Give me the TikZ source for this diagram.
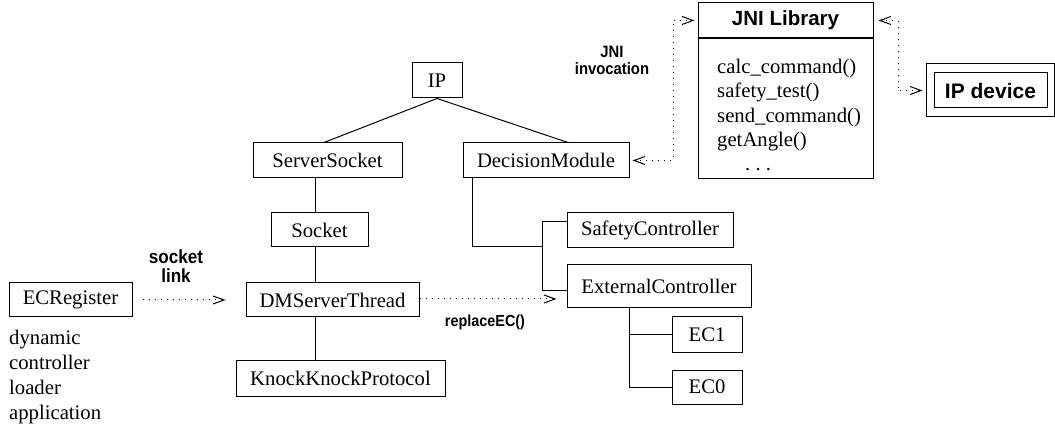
\documentclass[tikz,border=0pt]{standalone}
\usepackage{fontspec}
\setmainfont{Liberation Serif}
\newfontfamily\nbf[FakeStretch=0.9]{Liberation Sans Bold}
\newfontfamily\hbf{Liberation Sans Bold}
\usetikzlibrary{arrows.meta}
\begin{document}
\begin{tikzpicture}[x=1pt,y=-1pt,
  serif/.style={font=\fontsize{20.7}{25}\selectfont},
  box/.style={draw,line width=1pt,inner sep=0pt,serif},
  conn/.style={line width=1pt},
  barb/.tip={Straight Barb[length=11pt,width=8pt,line width=1pt]},
  dotline/.style={line width=1pt,dash pattern=on 1pt off 5pt},
  dotarrow/.style={dotline,-barb},
  dotdbl/.style={dotline,barb-barb},
  lbl/.style={inner sep=0pt,align=center},
]
\useasboundingbox (0,0) rectangle (1055,430);

% boxes
\node[box,minimum width=50pt,minimum height=35pt] (IP) at (437,80.5) {IP};
\node[box,minimum width=149pt,minimum height=35pt] (SS) at (327.5,160.5) {ServerSocket};
\node[box,minimum width=166pt,minimum height=35pt] (DM) at (546,160.5) {DecisionModule};
\node[box,minimum width=97pt,minimum height=34pt] (SO) at (319.5,230) {Socket};
\node[box,minimum width=173pt,minimum height=34pt] (DT) at (332.5,300) {DMServerThread};
\node[box,minimum width=209pt,minimum height=36pt] (KK) at (340.5,378) {KnockKnockProtocol};
\node[box,minimum width=123pt,minimum height=34pt] (ECR) at (70.5,300) {ECRegister};
\node[box,minimum width=166pt,minimum height=35pt] (SC) at (650,230.5) {SafetyController};
\node[box,minimum width=184pt,minimum height=43pt] (EC) at (659,286.5) {ExternalController};
\node[box,minimum width=70pt,minimum height=35pt] (EC1) at (707,334.5) {EC1};
\node[box,minimum width=70pt,minimum height=34pt] (EC0) at (707,387) {EC0};

% JNI library
\node[box,minimum width=175pt,minimum height=35pt,font=\hbf\fontsize{20.5}{24}\selectfont] (JNIh) at (785.5,20.5) {JNI Library};
\node[box,minimum width=175pt,minimum height=140pt,anchor=north] (JNIb) at (JNIh.south) {};
\node[serif,inner sep=0pt,anchor=north west,align=left,font=\fontsize{20.7}{24.3}\selectfont] (meth) at (717,59)
  {calc\_command()\\safety\_test()\\send\_command()\\getAngle()\\\hspace*{28pt}.\ .\ .};

% IP device
\node[draw,line width=1pt,minimum width=128pt,minimum height=53pt,inner sep=0pt] (IPd) at (990,90.5) {};
\node[box,minimum width=113pt,minimum height=35pt,font=\hbf\fontsize{21}{24}\selectfont] (IPin) at (990.5,90.5) {IP device};

% description text
\node[serif,inner sep=0pt,anchor=north west,align=left] (desc) at (9,330)
  {dynamic\\controller\\loader\\application};

% labels
\node[lbl,font=\nbf\fontsize{19}{18.5}\selectfont] (lsock) at (176,266) {socket\\link};
\node[lbl,font=\nbf\fontsize{16.5}{17}\selectfont] (ljni) at (612,60) {JNI\\invocation};
\node[lbl,anchor=base,font=\nbf\fontsize{16}{18}\selectfont] (lrep) at (485,326.7) {replaceEC()};

% tree connectors
\draw[conn] (IP.south) -- ([xshift=-3.5pt]SS.north);
\draw[conn] (IP.south) -- ([xshift=22pt]DM.north);
\coordinate (xs) at (315,0);
\draw[conn] (SS.south -| xs) -- (SO.north -| xs);
\draw[conn] (SO.south -| xs) -- (DT.north -| xs);
\draw[conn] (DT.south -| xs) -- (KK.north -| xs);

\coordinate (xd) at (472,0);
\coordinate (jA) at (542,247);
\coordinate (jB) at (542,222);
\coordinate (jC) at (542,291);
\draw[conn] (DM.south -| xd) |- (jA);
\draw[conn] (jB) -- (jC);
\draw[conn] (jB) -- (SC.west |- jB);
\draw[conn] (jC) -- (EC.west |- jC);

\coordinate (xe) at (629,0);
\coordinate (jD) at (629,335);
\draw[conn] (EC.south -| xe) |- (EC0.west);
\draw[conn] (jD) -- (EC1.west |- jD);

% dotted arrows
\draw[dotarrow,shorten <=10pt,shorten >=20pt] (ECR.east) -- (DT.west);
\coordinate (ya) at (0,299);
\draw[dotarrow,shorten >=10pt] (DT.east |- ya) -- (EC.west |- ya);
\coordinate (v1) at (673,0);
\draw[dotdbl,shorten <=3pt,shorten >=3pt] (DM.east) -- (DM.east -| v1) |- (JNIh.west);
\coordinate (v2) at (898,0);
\draw[dotdbl,shorten <=5pt,shorten >=3pt] (JNIh.east) -- (JNIh.east -| v2) |- (IPd.west);
\end{tikzpicture}
\end{document}
